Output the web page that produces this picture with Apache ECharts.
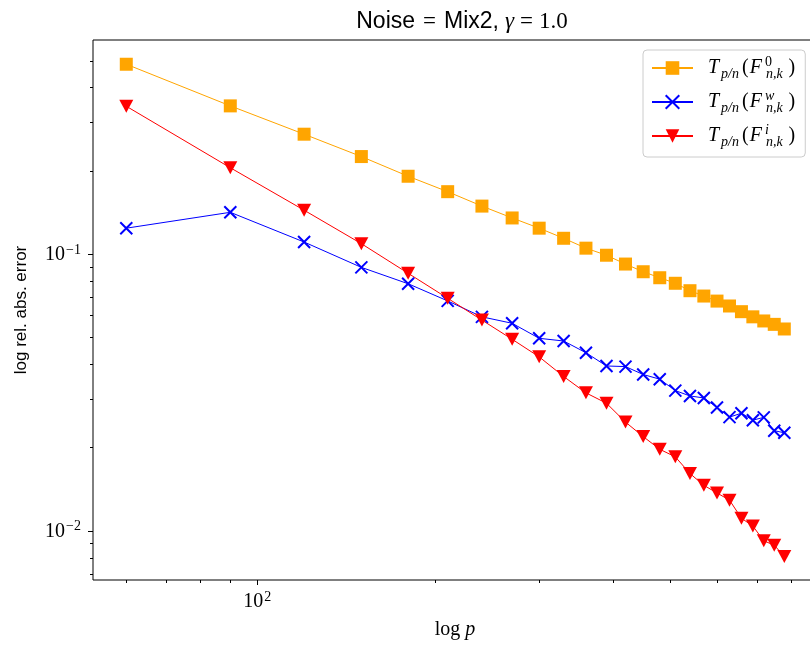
<!DOCTYPE html>
<html><head><meta charset="utf-8">
<script src="https://cdn.jsdelivr.net/npm/echarts@6/dist/echarts.min.js"></script>
<style>html,body{margin:0;padding:0;background:#fff}#c{width:810px;height:645px}</style>
</head><body><div id="c"></div>
<script>
// ---- data ----
const pValues = [60,90,120,150,180,210,240,270,300,330,360,390,420,450,480,510,540,570,600,630,660,690,720,750,780];
const seriesF0 = [0.485,0.343,0.271,0.225,0.191,0.168,0.149,0.135,0.124,0.114,0.105,0.099,0.092,0.0863,0.0821,0.0784,0.0737,0.0705,0.0676,0.0649,0.0619,0.0593,0.0573,0.0557,0.0536];
const seriesFw = [0.124,0.1415,0.1105,0.0895,0.0781,0.0677,0.0593,0.0562,0.0496,0.0485,0.0440,0.0394,0.0392,0.0367,0.0353,0.0321,0.0307,0.0302,0.0279,0.02575,0.0266,0.0251,0.0257,0.0230,0.0226];
const seriesFi = [0.342,0.205,0.144,0.109,0.0852,0.0692,0.0577,0.0492,0.0425,0.0361,0.0315,0.0289,0.0247,0.0219,0.0197,0.0185,0.0161,0.0146,0.0137,0.0129,0.0111,0.0104,0.0092,0.00887,0.00808];
const seriesNames = ['F0','Fw','Fi'];
const xMajorTicks = [100];
const xMinorTicks = [60,70,80,90,200,300,400,500,600,700,800];
const yMajorTicks = [0.01,0.1];
const yMinorTicks = [0.007,0.008,0.009,0.02,0.03,0.04,0.05,0.06,0.07,0.08,0.09,0.2,0.3,0.4,0.5];
const X_MIN = 52.7, X_MAX = 886;
const Y_MIN = 0.00664, Y_MAX = 0.5934;

const SERIF = '"Liberation Serif", "DejaVu Serif", serif';
const SANS = '"Liberation Sans", "DejaVu Sans", sans-serif';

function pair(ys){ return pValues.map((p,i)=>[p, ys[i]]); }
function powLabel(v){
  const e = Math.log10(v); const r = Math.round(e);
  if (Math.abs(e - r) > 1e-6) return '';
  return '{b|10}{s|' + (r < 0 ? '\u2212' + (-r) : r) + '}';
}
const tickRich = {
  b: {fontFamily: SERIF, fontSize: 20, color: '#000', lineHeight: 22, verticalAlign: 'bottom', padding: [0, 1, 0, 0]},
  s: {fontFamily: SERIF, fontSize: 14, color: '#000', lineHeight: 13, verticalAlign: 'top'}
};
function tickSeries(values, axis, len){
  return {
    type: 'custom', silent: true, clip: false, z: 10, animation: false,
    data: values.map(v => axis === 'x' ? [v, Y_MIN] : [X_MIN, v]),
    renderItem(params, api){
      const cs = params.coordSys;
      const pt = api.coord([api.value(0), api.value(1)]);
      if (axis === 'x') {
        const x = Math.round(pt[0]) + 0.5, yb = cs.y + cs.height;
        return {type: 'line', shape: {x1: x, y1: yb, x2: x, y2: yb + len}, style: {stroke: '#000', lineWidth: 1}};
      }
      const y = Math.round(pt[1]) + 0.5, xl = cs.x;
      return {type: 'line', shape: {x1: xl - len, y1: y, x2: xl, y2: y}, style: {stroke: '#000', lineWidth: 1}};
    }
  };
}
const legendText = {
  F0: '{pad|}{T|T}{sub|p/n}{n|(}{F|F}{sup|0}{sub|n,k}{r|)}',
  Fw: '{pad|}{T|T}{sub|p/n}{n|(}{F|F}{supi|w}{sub|n,k}{r|)}',
  Fi: '{pad|}{T|T}{sub|p/n}{n|(}{F|F}{supi|i}{sub|n,k}{r|)}'
};

const chart = echarts.init(document.getElementById('c'), null, {renderer: 'canvas'});
chart.setOption({
  animation: false,
  backgroundColor: '#fff',
  title: {
    text: '{sa|Noise}{se|=}{sa|Mix2,}{it|\u03b3}{se|=}{n|1.0}',
    left: 456, top: 5, textAlign: 'center',
    textStyle: {
      fontWeight: 'normal',
      rich: {
        sa: {fontFamily: SANS, fontSize: 23, fontWeight: 'normal', color: '#000', padding: [0, 2, 0, 2]},
        se: {fontFamily: SERIF, fontSize: 23, fontWeight: 'normal', color: '#000', padding: [0, 6, 0, 6]},
        n: {fontFamily: SERIF, fontSize: 23, fontWeight: 'normal', color: '#000'},
        it: {fontFamily: SERIF, fontSize: 23, fontStyle: 'italic', fontWeight: 'normal', color: '#000', padding: [0, 0, 0, 4]}
      }
    }
  },
  grid: {left: 93, top: 40, right: -7, bottom: 65, show: true, borderColor: '#000', borderWidth: 1, outerBoundsMode: 'none', containLabel: false},
  legend: {
    data: seriesNames,
    orient: 'vertical', left: 643, top: 50,
    padding: [5, 10, 8, 8],
    itemWidth: 41, itemHeight: 17, itemGap: 8,
    backgroundColor: 'rgba(255,255,255,0.8)', borderColor: '#cccccc', borderWidth: 1, borderRadius: 4,
    formatter: name => legendText[name],
    textStyle: {
      rich: {
        pad: {width: 10},
        T: {fontFamily: SERIF, fontStyle: 'italic', fontSize: 20, color: '#000', lineHeight: 26, padding: [0, 1, 0, 0]},
        F: {fontFamily: SERIF, fontStyle: 'italic', fontSize: 20, color: '#000', lineHeight: 26, padding: [0, 1, 0, 0]},
        n: {fontFamily: SERIF, fontSize: 20, color: '#000', lineHeight: 26, padding: [0, 1, 0, 0]},
        r: {fontFamily: SERIF, fontSize: 20, color: '#000', lineHeight: 26, padding: [0, 0, 0, 3]},
        sub: {fontFamily: SERIF, fontStyle: 'italic', fontSize: 14, color: '#000', lineHeight: 13, verticalAlign: 'bottom', padding: [0, 3, 0, 1]},
        sup: {fontFamily: SERIF, fontSize: 14, color: '#000', lineHeight: 11, verticalAlign: 'top', width: 0, padding: [0, 0, 0, 2]},
        supi: {fontFamily: SERIF, fontStyle: 'italic', fontSize: 14, color: '#000', lineHeight: 11, verticalAlign: 'top', width: 0, padding: [0, 0, 0, 2]}
      }
    }
  },
  xAxis: {
    type: 'log', logBase: 10, min: X_MIN, max: X_MAX,
    axisLine: {show: false}, axisTick: {show: false}, splitLine: {show: false}, minorTick: {show: false},
    axisLabel: {formatter: powLabel, margin: 10, rich: tickRich, color: '#000'},
    name: '{n|log }{i|p}', nameLocation: 'middle', nameGap: 40,
    nameTextStyle: {rich: {
      n: {fontFamily: SERIF, fontSize: 20, color: '#000'},
      i: {fontFamily: SERIF, fontStyle: 'italic', fontSize: 20, color: '#000'}
    }}
  },
  yAxis: {
    type: 'log', logBase: 10, min: Y_MIN, max: Y_MAX,
    axisLine: {show: false}, axisTick: {show: false}, splitLine: {show: false}, minorTick: {show: false},
    axisLabel: {formatter: powLabel, margin: 12, rich: tickRich, color: '#000'},
    name: 'log rel. abs. error', nameLocation: 'middle', nameGap: 63, nameRotate: 90,
    nameTextStyle: {fontFamily: SANS, fontSize: 17, color: '#000'}
  },
  series: [
    {
      name: 'F0', type: 'line', data: pair(seriesF0),
      symbol: 'rect', symbolSize: 13,
      lineStyle: {color: '#FFA500', width: 1}, itemStyle: {color: '#FFA500'}
    },
    {
      name: 'Fw', type: 'line', data: pair(seriesFw),
      symbol: 'path://M0,0L10,10M10,0L0,10', symbolSize: 12, symbolKeepAspect: true,
      lineStyle: {color: '#0000FF', width: 1}, itemStyle: {color: '#0000FF', borderColor: '#0000FF', borderWidth: 2}
    },
    {
      name: 'Fi', type: 'line', data: pair(seriesFi),
      symbol: 'triangle', symbolRotate: 180, symbolSize: [14, 13],
      lineStyle: {color: '#FF0000', width: 1}, itemStyle: {color: '#FF0000'}
    },
    tickSeries(xMajorTicks, 'x', 5),
    tickSeries(xMinorTicks, 'x', 3),
    tickSeries(yMajorTicks, 'y', 5),
    tickSeries(yMinorTicks, 'y', 3)
  ]
});
</script></body></html>
